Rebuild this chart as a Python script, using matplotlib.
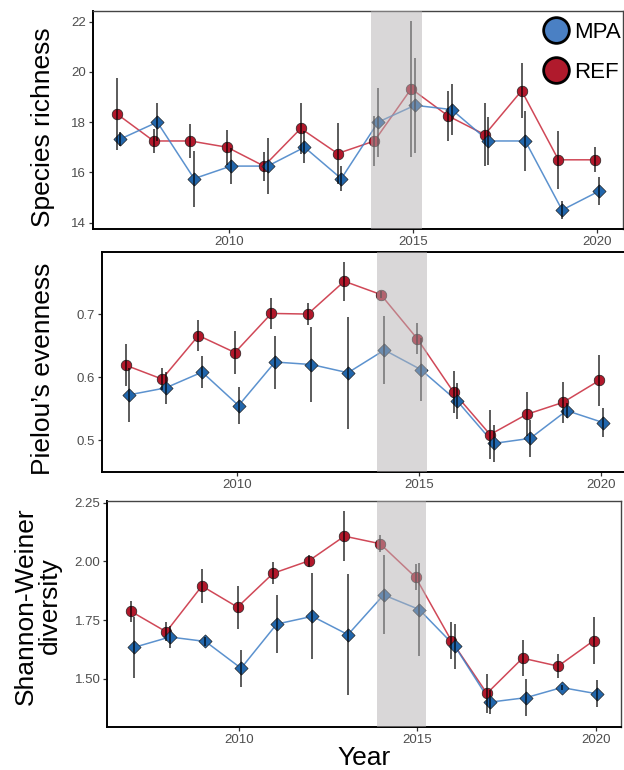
import numpy as np
import matplotlib.pyplot as plt
from matplotlib.lines import Line2D
from matplotlib.ticker import FormatStrFormatter

plt.rcParams['font.family'] = ['Liberation Sans', 'DejaVu Sans']

# --- data ---
years = [2007, 2008, 2009, 2010, 2011, 2012, 2013, 2014, 2015, 2016, 2017, 2018, 2019, 2020]

rich_mpa = [17.33, 18.0, 15.75, 16.25, 16.25, 17.0, 15.75, 18.0, 18.67, 18.5, 17.25, 17.25, 14.5, 15.25]
rich_mpa_se = [0.28, 0.75, 1.12, 0.71, 1.1, 0.63, 0.5, 1.37, 1.9, 1.0, 0.95, 1.2, 0.36, 0.56]
rich_ref = [18.33, 17.25, 17.25, 17.0, 16.25, 17.75, 16.75, 17.25, 19.33, 18.25, 17.5, 19.25, 16.5, 16.5]
rich_ref_se = [1.44, 0.48, 0.66, 0.7, 0.58, 1.03, 1.2, 1.0, 2.7, 1.0, 1.26, 1.1, 1.15, 0.5]

piel_mpa = [0.572, 0.583, 0.608, 0.555, 0.624, 0.620, 0.607, 0.643, 0.612, 0.562, 0.495, 0.503, 0.547, 0.528]
piel_mpa_se = [0.043, 0.025, 0.025, 0.029, 0.042, 0.06, 0.089, 0.054, 0.05, 0.028, 0.029, 0.029, 0.012, 0.023]
piel_ref = [0.619, 0.597, 0.666, 0.639, 0.701, 0.700, 0.752, 0.731, 0.661, 0.576, 0.509, 0.541, 0.560, 0.595]
piel_ref_se = [0.033, 0.018, 0.024, 0.034, 0.024, 0.018, 0.031, 0.005, 0.025, 0.033, 0.039, 0.035, 0.033, 0.04]

shan_mpa = [1.634, 1.678, 1.659, 1.545, 1.733, 1.766, 1.688, 1.857, 1.795, 1.639, 1.401, 1.420, 1.463, 1.436]
shan_mpa_se = [0.13, 0.046, 0.02, 0.078, 0.122, 0.183, 0.256, 0.168, 0.196, 0.096, 0.05, 0.08, 0.012, 0.057]
shan_ref = [1.788, 1.700, 1.895, 1.805, 1.949, 2.002, 2.107, 2.075, 1.932, 1.663, 1.438, 1.588, 1.554, 1.663]
shan_ref_se = [0.045, 0.04, 0.072, 0.092, 0.046, 0.027, 0.106, 0.035, 0.055, 0.077, 0.082, 0.076, 0.05, 0.1]

shade = (2013.86, 2015.23)   # grey band
dodge = 0.05

RED_PT, BLUE_PT = '#B2182B', '#2166AC'
RED_LN, BLUE_LN = '#C8283A', '#3F7FC6'


def draw_panel(ax, mpa, mpa_se, ref, ref_se, yticks, fmt):
    x = np.array(years, dtype=float)
    xr = x - dodge
    xm = x + dodge
    ax.plot(xr, ref, color=RED_LN, lw=1.1, alpha=0.85, zorder=2)
    ax.plot(xm, mpa, color=BLUE_LN, lw=1.1, alpha=0.85, zorder=2)
    ax.scatter(xr, ref, s=58, marker='o', color=RED_PT, edgecolors='#222222', linewidths=0.5, zorder=3)
    ax.scatter(xm, mpa, s=45, marker='D', color=BLUE_PT, edgecolors='#222222', linewidths=0.5, zorder=3)
    ax.errorbar(xr, ref, yerr=ref_se, fmt='none', ecolor='black', elinewidth=1.2, alpha=0.75, zorder=4)
    ax.errorbar(xm, mpa, yerr=mpa_se, fmt='none', ecolor='black', elinewidth=1.2, alpha=0.75, zorder=4)
    ax.axvspan(shade[0], shade[1], color='#b4b1b3', alpha=0.5, lw=0, zorder=10)

    # ggplot-like 5% expansion
    lo = min(np.min(np.array(mpa) - mpa_se), np.min(np.array(ref) - ref_se))
    hi = max(np.max(np.array(mpa) + mpa_se), np.max(np.array(ref) + ref_se))
    pad = 0.05 * (hi - lo)
    ax.set_ylim(lo - pad, hi + pad)
    xpad = 0.05 * (xm.max() - xr.min())
    ax.set_xlim(xr.min() - xpad, xm.max() + xpad)

    ax.set_xticks([2010, 2015, 2020])
    ax.set_yticks(yticks)
    ax.yaxis.set_major_formatter(FormatStrFormatter(fmt))
    ax.tick_params(labelsize=9.5, labelcolor='#4D4D4D', color='#333333', length=3, width=0.9, pad=2)


fig = plt.figure(figsize=(6.24, 7.70), dpi=100)
W, H = 624.0, 770.0

def add_axes(l, r, t, b):
    return fig.add_axes([l / W, 1 - b / H, (r - l) / W, (b - t) / H])

ax1 = add_axes(92.7, 623, 11, 229)
ax2 = add_axes(101.7, 627, 251.7, 471.7)
ax3 = add_axes(107.3, 620.7, 501, 726.7)

draw_panel(ax1, rich_mpa, rich_mpa_se, rich_ref, rich_ref_se, [14, 16, 18, 20, 22], '%d')
draw_panel(ax2, piel_mpa, piel_mpa_se, piel_ref, piel_ref_se, [0.5, 0.6, 0.7], '%.1f')
draw_panel(ax3, shan_mpa, shan_mpa_se, shan_ref, shan_ref_se, [1.5, 1.75, 2.0, 2.25], '%.2f')

# spines
for ax, thin in [(ax1, True), (ax2, False), (ax3, True)]:
    for s in ['left', 'bottom']:
        ax.spines[s].set_linewidth(1.4)
        ax.spines[s].set_color('black')
    for s in ['top', 'right']:
        ax.spines[s].set_linewidth(1.0 if thin else 1.4)
        ax.spines[s].set_color('#444444' if thin else 'black')

# axis titles
fig.text(43 / W, 1 - 127 / H, 'Species richness', rotation=90, ha='center', va='center', fontsize=19)
fig.text(43 / W, 1 - 369 / H, 'Pielou\u2019s evenness', rotation=90, ha='center', va='center', fontsize=19)
fig.text(38 / W, 1 - 606 / H, 'Shannon-Weiner\ndiversity', rotation=90, ha='center', va='center',
         fontsize=19, multialignment='center', linespacing=1.0)
ax3.set_xlabel('Year', fontsize=19, labelpad=0)

# legend
handles = [Line2D([], [], ls='', marker='o', markersize=18.5, markerfacecolor='#4A80C4',
                  markeredgecolor='black', markeredgewidth=2, label='MPA'),
           Line2D([], [], ls='', marker='o', markersize=18.5, markerfacecolor='#B01A2C',
                  markeredgecolor='black', markeredgewidth=2, label='REF')]
leg = ax1.legend(handles=handles, loc='upper right', bbox_to_anchor=(1.006, 0.975), frameon=False,
                 fontsize=16, handletextpad=0.05, labelspacing=0.85, borderaxespad=0.0,
                 borderpad=0.25, handlelength=1.5)
leg.set_zorder(20)

fig.savefig('out.png', dpi=100)
